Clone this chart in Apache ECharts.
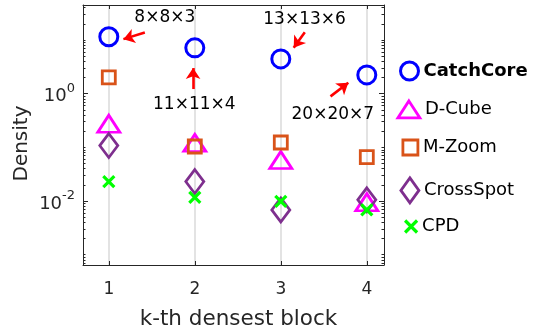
<!DOCTYPE html>
<html><head><meta charset="utf-8">
<script src="https://cdn.jsdelivr.net/npm/echarts@6/dist/echarts.min.js"></script>
<style>html,body{margin:0;padding:0;background:#fff}#c{width:537px;height:336px}</style>
</head><body><div id="c"></div>
<script>
// ---- data ----
const blocks = [1, 2, 3, 4];
const seriesNames = ['CatchCore', 'D-Cube', 'M-Zoom', 'CrossSpot', 'CPD'];
const catchCore = [11.5, 7.15, 4.45, 2.24];
const dCube = [0.275, 0.121, 0.058, 0.0095];
const mZoom = [2.02, 0.1035, 0.123, 0.0656];
const crossSpot = [0.108, 0.023, 0.0068, 0.0105];
const cpd = [0.023, 0.0117, 0.0098, 0.0068];
const yTickValues = [0.01, 1];
const annotationTexts = ['8×8×3', '11×11×4', '13×13×6', '20×20×7'];
const annotationAt = [[1.651, 26], [1.994, 0.622], [3.276, 23.9], [3.605, 0.405]];
const arrowFrom = [[1.419, 13.8], [1.98, 1.22], [3.279, 14.0], [3.578, 0.89]];
const arrowTo = [[1.17, 10.4], [1.98, 3.0], [3.15, 7.2], [3.785, 1.6]];

// ---- styling ----
const FONT = 'DejaVu Sans';
const TXT = '#262626';
const yMin = 0.00064, yMax = 45;
const values = [catchCore, dCube, mZoom, crossSpot, cpd];
const styles = [
  {symbol: 'circle', size: 18, color: '#0000FF', bw: 3, lw: 18, lh: 18, cx: 408, cy: 71},
  {symbol: 'triangle', size: [22, 17], color: '#FF00FF', bw: 2.8, lw: 22, lh: 17, cx: 407.5, cy: 110},
  {symbol: 'rect', size: 13, color: '#D95319', bw: 2.8, lw: 15, lh: 15, cx: 409, cy: 149},
  {symbol: 'diamond', size: [18, 24], color: '#7E2F8E', bw: 2.8, lw: 18, lh: 25, cx: 408.5, cy: 189},
  {symbol: 'path://M0,0L10,10M10,0L0,10', size: 11, color: '#00FF00', bw: 3.2, lw: 12, lh: 12, cx: 409.5, cy: 228}
];

// minor tick values (log decades)
const minorTicks = [];
for (let k = -4; k <= 1; k++) {
  for (let m = 1; m <= 9; m++) {
    const v = +(m * Math.pow(10, k)).toPrecision(6);
    if (v >= yMin && v <= yMax && yTickValues.indexOf(v) < 0) minorTicks.push(v);
  }
}

const gridBox = {left: 83, right: 153, top: 5, bottom: 71};
const axisLineStyle = {color: TXT, width: 1};

const yMajorLabel = {
  show: true, customValues: yTickValues, margin: 8,
  formatter: v => '{b|10}{s|' + Math.round(Math.log10(v)) + '}',
  rich: {
    b: {fontFamily: FONT, fontSize: 18, color: TXT, lineHeight: 24, verticalAlign: 'bottom'},
    s: {fontFamily: FONT, fontSize: 13, color: TXT, verticalAlign: 'top', lineHeight: 14}
  }
};

function yAxisDef(pos, major) {
  return {
    type: 'log', logBase: 10, min: yMin, max: yMax, position: pos, offset: 0,
    axisLine: {show: major, lineStyle: axisLineStyle},
    axisTick: {show: true, inside: true, length: major ? 5 : 2.5,
      customValues: major ? yTickValues : minorTicks, lineStyle: {color: TXT, width: 1}},
    axisLabel: (major && pos === 'left') ? yMajorLabel : {show: false},
    splitLine: {show: false}, minorTick: {show: false},
    name: (major && pos === 'left') ? 'Density' : '',
    nameLocation: 'middle', nameGap: 51, nameMoveOverlap: false,
    nameTextStyle: {fontFamily: FONT, fontSize: 20, color: TXT, padding: [0, 17, 0, 0]}
  };
}

const series = seriesNames.map((name, i) => {
  const s = styles[i];
  const obj = {
    type: 'scatter', name: name,
    data: blocks.map((b, j) => [b, values[i][j]]),
    symbol: s.symbol, symbolSize: s.size,
    itemStyle: {color: 'rgba(0,0,0,0)', borderColor: s.color, borderWidth: s.bw, opacity: 1},
    emphasis: {disabled: true}, silent: true, z: 3 + i
  };
  if (i === 0) {
    obj.markPoint = {
      silent: true, symbol: 'circle', symbolSize: 0,
      itemStyle: {color: 'rgba(0,0,0,0)'},
      label: {show: true, position: 'inside', formatter: '{b}', fontFamily: FONT, fontSize: 17, color: '#000'},
      data: annotationTexts.map((t, j) => ({name: t, coord: annotationAt[j]}))
    };
    obj.markLine = {
      silent: true, symbol: ['none', 'arrow'], symbolSize: 11,
      lineStyle: {color: '#FF0000', width: 2.6, type: 'solid'},
      label: {show: false}, emphasis: {disabled: true},
      data: arrowFrom.map((f, j) => [{coord: f}, {coord: arrowTo[j]}])
    };
  }
  return obj;
});

const legends = seriesNames.map((name, i) => {
  const s = styles[i];
  return {
    orient: 'vertical', padding: 0, selectedMode: false,
    left: s.cx - s.lw / 2, top: s.cy - Math.max(s.lh, 21) / 2,
    itemWidth: s.lw, itemHeight: s.lh,
    textStyle: {fontFamily: FONT, fontSize: 18, color: '#000', fontWeight: i === 0 ? 'bold' : 'normal'},
    data: [{name: name, icon: s.symbol,
      itemStyle: {color: 'rgba(0,0,0,0)', borderColor: s.color, borderWidth: s.bw}}]
  };
});

const chart = echarts.init(document.getElementById('c'), null, {renderer: 'canvas'});
chart.setOption({
  animation: false,
  backgroundColor: '#fff',
  grid: gridBox,
  legend: legends,
  xAxis: [
    {
      type: 'value', min: 0.7, max: 4.2, position: 'bottom',
      axisLine: {show: true, onZero: false, lineStyle: axisLineStyle},
      axisTick: {show: true, inside: true, length: 4, customValues: blocks, lineStyle: {color: TXT}},
      axisLabel: {show: true, customValues: blocks, margin: 16, fontFamily: FONT, fontSize: 17, color: TXT},
      splitLine: {show: true, lineStyle: {color: '#DADADA', width: 1.5}},
      name: 'k-th densest block', nameLocation: 'middle', nameGap: 43, nameMoveOverlap: false,
      nameTextStyle: {fontFamily: FONT, fontSize: 21.5, color: TXT, padding: [0, 0, 0, 10]}
    },
    {
      type: 'value', min: 0.7, max: 4.2, position: 'top',
      axisLine: {show: true, onZero: false, lineStyle: axisLineStyle},
      axisTick: {show: true, inside: true, length: 4, customValues: blocks, lineStyle: {color: TXT}},
      axisLabel: {show: false}, splitLine: {show: false}
    }
  ],
  yAxis: [yAxisDef('left', true), yAxisDef('left', false), yAxisDef('right', true), yAxisDef('right', false)],
  series: series
});
</script>
</body></html>
